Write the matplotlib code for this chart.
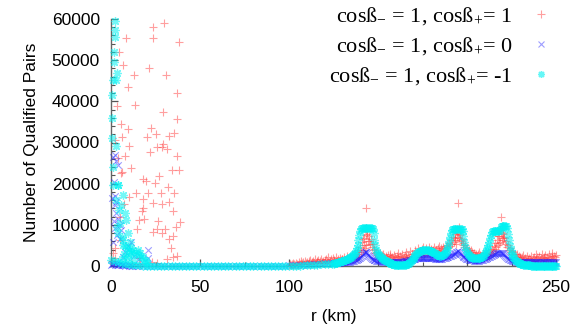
import numpy as np
import matplotlib
matplotlib.use("Agg")
import matplotlib.pyplot as plt
from matplotlib.ticker import MultipleLocator
from matplotlib.lines import Line2D

# ---------------- data ----------------
# dense curves: grid of r (km)
curve_r_lo = np.arange(0, 125, 2.0)          # 0..124 step 2
curve_r_hi = np.arange(125, 250.25, 0.5)     # 125..250 step 0.5

cyan_lo = [1500, 1200, 900, 700, 500, 400, 300, 200, 150, 100,
           80, 60, 50, 50, 40, 40, 40, 40, 40, 40,
           40, 40, 40, 40, 40, 40, 40, 40, 40, 40,
           40, 40, 40, 40, 40, 40, 40, 40, 40, 40,
           40, 40, 40, 40, 40, 40, 50, 50, 60, 70,
           80, 90, 100, 120, 150, 180, 220, 270, 330, 400,
           470, 540, 580]
cyan_hi = [600, 650, 700, 760, 820, 880, 950, 1020, 1100, 1180,
           1260, 1330, 1400, 1470, 1550, 1640, 1740, 1860, 2000, 2150,
           2300, 2450, 2600, 2800, 3100, 3600, 4300, 5200, 6300, 7500,
           8500, 9100, 9250, 9300, 9250, 9300, 9250, 9300, 9250, 9300,
           9250, 9300, 9250, 9200, 8900, 7900, 6400, 5000, 4000, 3400,
           3000, 2700, 2450, 2250, 2050, 1850, 1700, 1550, 1420, 1300,
           1180, 1050, 920, 800, 690, 590, 500, 420, 350, 290,
           250, 220, 200, 190, 180, 180, 180, 190, 200, 220,
           250, 300, 370, 460, 580, 730, 920, 1150, 1420, 1720,
           2030, 2350, 2650, 2920, 3150, 3350, 3500, 3620, 3720, 3800,
           3850, 3880, 3900, 3900, 3900, 3880, 3850, 3800, 3740, 3660,
           3560, 3450, 3320, 3180, 3040, 2900, 2780, 2680, 2600, 2550,
           2520, 2520, 2560, 2650, 2800, 3050, 3400, 3850, 4400, 5100,
           6000, 7000, 8000, 8700, 9000, 9050, 9000, 9050, 9000, 9050,
           9000, 9050, 9000, 9050, 8950, 8500, 7300, 5800, 4600, 3800,
           3300, 2900, 2600, 2400, 2250, 2120, 2020, 1950, 1900, 1870,
           1850, 1850, 1870, 1900, 1960, 2040, 2150, 2300, 2500, 2750,
           3050, 3400, 3850, 4400, 5100, 5900, 6800, 7600, 8200, 8500,
           8550, 8600, 8550, 8600, 8550, 8600, 8600, 8650, 9400, 9650,
           9700, 9650, 9700, 9650, 9700, 9200, 7800, 6200, 4900, 3900,
           3200, 2650, 2200, 1850, 1550, 1300, 1100, 930, 790, 670,
           570, 490, 420, 360, 310, 270, 240, 210, 185, 165,
           150, 135, 120, 110, 100, 90, 85, 80, 75, 70,
           65, 60, 55, 50, 50, 45, 40, 40, 35, 35,
           30, 30, 30, 25, 25, 25, 20, 20, 20, 20, 20]

blue_lo = [300, 250, 200, 150, 100, 80, 60, 50, 40, 40,
           40, 40, 40, 40, 40, 40, 40, 40, 40, 40,
           40, 40, 40, 40, 40, 40, 40, 40, 40, 40,
           40, 40, 40, 40, 40, 40, 40, 40, 40, 40,
           40, 40, 40, 40, 40, 60, 70, 80, 100, 120,
           150, 180, 210, 250, 290, 340, 390, 440, 500, 560,
           620, 660, 690]
blue_hi = [700, 720, 740, 760, 790, 810, 830, 850, 870, 890,
           910, 930, 950, 970, 990, 1010, 1040, 1060, 1090, 1120,
           1150, 1190, 1230, 1280, 1340, 1410, 1500, 1600, 1720, 1870,
           2050, 2280, 2550, 2850, 3150, 3400, 3450, 3300, 3050, 2750,
           2450, 2200, 1980, 1800, 1650, 1530, 1430, 1350, 1290, 1240,
           1200, 1170, 1140, 1120, 1100, 1080, 1060, 1050, 1040, 1030,
           1020, 1010, 1000, 1000, 990, 990, 980, 980, 980, 980,
           980, 980, 990, 1000, 1010, 1020, 1040, 1060, 1090, 1120,
           1150, 1190, 1230, 1280, 1330, 1380, 1440, 1500, 1560, 1620,
           1680, 1740, 1790, 1840, 1880, 1920, 1950, 1980, 2000, 2020,
           2030, 2040, 2050, 2050, 2050, 2040, 2030, 2010, 1990, 1960,
           1930, 1900, 1870, 1840, 1810, 1790, 1770, 1760, 1750, 1750,
           1760, 1780, 1810, 1850, 1900, 1960, 2030, 2110, 2200, 2300,
           2380, 2460, 2550, 2650, 2760, 2880, 3010, 3150, 3300, 3450,
           3550, 3450, 3250, 3000, 2750, 2500, 2280, 2080, 1920, 1800,
           1700, 1620, 1550, 1490, 1440, 1400, 1370, 1340, 1320, 1300,
           1290, 1290, 1300, 1320, 1350, 1390, 1440, 1500, 1570, 1650,
           1740, 1820, 1900, 1990, 2080, 2180, 2280, 2390, 2500, 2620,
           2740, 2860, 2970, 3070, 3150, 3200, 3230, 3240, 3230, 3180,
           3080, 2900, 2650, 2400, 2150, 1950, 1780, 1640, 1520, 1420,
           1340, 1270, 1210, 1160, 1120, 1090, 1060, 1040, 1020, 1000,
           990, 980, 970, 960, 950, 950, 940, 940, 930, 930,
           920, 920, 920, 910, 910, 910, 900, 900, 900, 900,
           900, 900, 900, 890, 890, 890, 890, 880, 880, 880,
           880, 880, 880, 880, 870, 870, 870, 870, 870, 870, 870]

# scattered points near the origin
cyan_pts_r = [2.1, 2.4, 2.1, 1.7, 1.7, 3.4, 1.1, 3.0, 0.7, 0.6, 3.0, 3.9, 1.1,
              6.7, 5.8, 7.7, 8.6, 9.6, 10.5, 6.7, 11.4, 15.2, 17.0, 9.6, 18.9,
              4.1, 3.0, 4.5, 5.2, 3.5, 4.0, 6.0, 7.0, 8.0, 9.0, 10.0, 11.0,
              12.0, 13.0, 14.0, 15.5, 16.5, 18.0, 19.5, 20.5, 7.5, 8.5, 12.5,
              6.2, 0.4, 0.9]
cyan_pts_v = [59400, 57300, 55700, 52100, 49600, 46800, 45200, 45200, 41500,
              31000, 29200, 19700, 19700, 17300, 14800, 12800, 11200, 7900,
              5900, 5100, 4300, 3900, 2300, 1900, 1500, 19700, 16000, 13500,
              10500, 9500, 8000, 7000, 6200, 4800, 4400, 3600, 3200, 3900,
              2800, 3500, 2600, 3200, 2100, 1300, 800, 3000, 2400, 1500,
              1800, 36000, 24000]

blue_pts_r = [1.2, 2.1, 3.0, 3.9, 1.5, 2.5, 2.1, 3.0, 4.2, 4.9, 2.1, 5.8, 1.1,
              3.5, 11.4, 6.7, 20.8, 20.8, 0.8, 2.8, 1.6, 5.2, 8.0, 9.5, 13.0,
              16.0, 0.5, 1.0, 2.0, 3.0, 4.0, 5.0, 6.0, 7.0, 8.0, 10.0, 12.0]
blue_pts_v = [26500, 27000, 25500, 24500, 20500, 17000, 14800, 12800, 11500,
              10000, 9200, 8700, 5900, 7500, 5900, 2300, 3900, 1900, 16500,
              15500, 11000, 6500, 3500, 4800, 2500, 1800, 600, 500, 700, 400,
              300, 500, 250, 350, 200, 150, 100]

red_pts_r = [23.4, 29.8, 8.4, 23.4, 38.4, 4.7, 6.6, 21.5, 13.1, 30.7, 9.7, 36.9,
             13.5, 3.5, 29.0, 37.3, 5.4, 22.3, 9.7, 35.4, 25.3, 6.0, 20.4, 32.4,
             29.4, 26.0, 28.5, 31.3, 10.3, 21.9, 36.9, 11.1, 34.1, 38.2, 6.0,
             17.8, 19.7, 24.7, 27.1, 32.2, 14.0, 21.0, 27.9, 35.4, 10.3, 18.1,
             23.8, 32.8, 7.3, 17.8, 17.2, 28.5, 34.7, 5.1, 15.9, 18.5, 26.6,
             38.8, 36.5, 14.8, 23.8, 25.7, 30.3, 28.5, 34.7, 32.8, 5.1, 2.2,
             1.0, 33.5, 34.7, 37.3, 31.3, 26.0, 15.9, 22.9, 3.9, 5.5, 7.7, 2.0,
             0.5, 1.5, 2.5, 12.0, 16.5]
red_pts_v = [58100, 59100, 55300, 55300, 54500, 51900, 48800, 48000, 46400,
             46400, 43400, 42000, 39100, 38900, 37300, 35600, 34500, 33600,
             33200, 32200, 32000, 31400, 31400, 31600, 29600, 28800, 28800,
             28400, 29200, 27800, 26700, 23700, 23200, 23300, 22900, 21100,
             20700, 20200, 21900, 19300, 17800, 17700, 17800, 17700, 16700,
             16200, 15400, 15600, 15100, 14000, 13400, 15100, 13400, 12000,
             11200, 11300, 11000, 10800, 9500, 8900, 8300, 8900, 8900, 8100,
             7300, 6500, 6300, 4300, 3100, 4300, 2300, 2400, 1600, 650, 1900,
             1000, 26200, 22500, 26600, 30600, 1200, 800, 2000, 600, 400]

# background scatter 100..250 km (0.5 km steps)
red_bg_r = np.arange(100, 250.25, 0.5)
red_bg_v = [250, 600, 150, 400, 800, 300, 500, 200, 700, 450,
            350, 900, 600, 1200, 400, 800, 1000, 550, 1300, 700,
            900, 500, 1100, 750, 1400, 600, 1000, 1250, 800, 1600,
            700, 1100, 950, 1500, 850, 1300, 1800, 1000, 1200, 650,
            1400, 900, 1700, 1100, 2100, 800, 1300, 1600, 1000, 1900,
            1200, 1500, 900, 2300, 1300, 1700, 1100, 2000, 1400, 1600,
            1800, 1300, 2200, 1500, 1700, 2500, 1400, 1900, 2100, 1600,
            2000, 2600, 1700, 2300, 2900, 2100, 3300, 2500, 3800, 2800,
            4500, 3300, 5800, 3900, 6800, 4400, 7600, 5200, 8400, 6100,
            7200, 5300, 6500, 4600, 5400, 3800, 4200, 3100, 3500, 2700,
            2900, 2300, 3200, 2100, 2600, 1900, 2800, 2200, 1800, 2500,
            2000, 2700, 1700, 2400, 3000, 1900, 2300, 1600, 2600, 2100,
            1800, 2500, 2200, 3100, 1700, 2400, 2000, 2900, 1600, 2300,
            2700, 2100, 3300, 1900, 2500, 2200, 3600, 2000, 2800, 2400,
            3000, 2300, 3800, 2600, 3200, 4400, 2900, 3500, 2700, 4100,
            3300, 4700, 3000, 3900, 4300, 3100, 3700, 4600, 3400, 3800,
            4200, 3200, 3900, 4500, 3600, 4000, 3300, 4400, 3700, 4800,
            3500, 4300, 3900, 4600, 4100, 3700, 4900, 4300, 5100, 4500,
            5600, 4800, 6200, 5300, 7000, 5900, 7800, 6400, 8600, 7100,
            8100, 6800, 7500, 6000, 6600, 5200, 5700, 4600, 5000, 4100,
            4400, 3700, 4000, 3300, 3800, 3000, 3500, 2800, 3200, 2600,
            3000, 2400, 2800, 3300, 2200, 2700, 2000, 2500, 3100, 2300,
            2600, 3200, 2400, 2900, 3500, 2700, 3800, 3100, 4200, 3600,
            4800, 4100, 5600, 4600, 6400, 5200, 7300, 5800, 8200, 6700,
            7700, 6200, 7000, 5400, 6100, 4700, 5200, 3900, 4400, 3400,
            3700, 2900, 3300, 2600, 3000, 2300, 2800, 2100, 2500, 1900,
            2300, 1700, 2100, 2700, 1600, 2000, 1500, 2400, 1800, 1400,
            2000, 1600, 2500, 1300, 1900, 2200, 1500, 2800, 1700, 2100,
            1800, 2400, 1400, 2000, 3000, 1600, 2300, 1900, 2600, 1500,
            2200, 1700, 2900, 2000, 1600, 2500, 3200, 1800, 2400, 2100, 2700]

red_pk_r = [143, 195, 219, 142.5, 143.5, 144, 141.5, 194.5, 195.5, 196, 193.5,
            218.5, 219.5, 220, 217.5, 142, 145, 194, 196.5, 218, 221]
red_pk_v = [14200, 15200, 11900, 8900, 9300, 7800, 6600, 9000, 9400, 7700, 6900,
            8800, 9600, 8100, 7200, 5100, 6000, 5300, 6200, 5600, 6700]

labels = [r"cosß$_{-}$ = 1, cosß$_{+}$= 1",
          r"cosß$_{-}$ = 1, cosß$_{+}$= 0",
          r"cosß$_{-}$ = 1, cosß$_{+}$= -1"]
xticks = [0, 50, 100, 150, 200, 250]
yticks = [0, 10000, 20000, 30000, 40000, 50000, 60000]

# ---------------- plot ----------------
plt.rcParams['font.family'] = ['Liberation Sans', 'DejaVu Sans']
plt.rcParams['mathtext.fontset'] = 'custom'
plt.rcParams['mathtext.rm'] = 'Liberation Serif'
plt.rcParams['mathtext.it'] = 'Liberation Serif:italic'
plt.rcParams['mathtext.bf'] = 'Liberation Serif:bold'

fig = plt.figure(figsize=(5.87, 3.33), dpi=100)
ax = fig.add_axes([111 / 587, 67 / 333, 445 / 587, 247 / 333])

red_c = (1.0, 0.25, 0.25)
blue_c = (0.15, 0.15, 1.0)
cyan_c = (0.0, 0.95, 0.95)
ast = (8, 2, 0)

red_r = np.concatenate([red_pts_r, red_bg_r, red_pk_r])
red_v = np.concatenate([red_pts_v, red_bg_v, red_pk_v])
ax.scatter(red_r, red_v, marker='+', s=28, linewidths=0.8, color=red_c,
           alpha=0.5, clip_on=False, zorder=2)

blue_r = np.concatenate([blue_pts_r, curve_r_lo, curve_r_hi])
blue_v = np.concatenate([blue_pts_v, blue_lo, blue_hi])
ax.scatter(blue_r, blue_v, marker='x', s=22, linewidths=0.8, color=blue_c,
           alpha=0.45, clip_on=False, zorder=3)

cyan_r = np.concatenate([cyan_pts_r, curve_r_lo, curve_r_hi])
cyan_v = np.concatenate([cyan_pts_v, cyan_lo, cyan_hi])
ax.scatter(cyan_r, cyan_v, marker=ast, s=30, linewidths=1.0, color=cyan_c,
           alpha=0.55, clip_on=False, zorder=4)

ax.set_xlim(0, 250)
ax.set_ylim(0, 60000)
ax.set_xticks(xticks)
ax.set_yticks(yticks)
ax.xaxis.set_minor_locator(MultipleLocator(25))
ax.yaxis.set_minor_locator(MultipleLocator(2000))
ax.tick_params(which='both', direction='in', colors='#555555',
               labelcolor='black', labelsize=12.5, top=False, right=False)
ax.tick_params(which='major', length=5, width=0.9)
ax.tick_params(which='minor', length=3, width=0.8)
ax.tick_params(axis='x', which='major', pad=10)
ax.tick_params(axis='y', which='major', pad=8)
for s in ['top', 'right']:
    ax.spines[s].set_visible(False)
for s in ['left', 'bottom']:
    ax.spines[s].set_color('#666666')
    ax.spines[s].set_linewidth(1.0)

ax.set_xlabel('r (km)', fontsize=12.5, labelpad=10)
ax.set_ylabel('Number of Qualified Pairs', fontsize=12.5, labelpad=9)

handles = [
    Line2D([], [], linestyle='none', marker='+', markersize=5.5, markeredgewidth=0.8,
           color=red_c, alpha=0.5),
    Line2D([], [], linestyle='none', marker='x', markersize=4.5, markeredgewidth=0.8,
           color=blue_c, alpha=0.45),
    Line2D([], [], linestyle='none', marker=ast, markersize=5, markeredgewidth=1.0,
           color=cyan_c, alpha=0.6),
]
leg = fig.legend(handles, labels, loc='upper right', bbox_to_anchor=(558 / 587, 1.0),
                 frameon=False, markerfirst=False,
                 prop={'family': 'Liberation Serif', 'size': 16},
                 handlelength=1.0, handletextpad=0.8, labelspacing=0.35, borderpad=0.25,
                 borderaxespad=0.0)

fig.savefig('out.png', dpi=100)
